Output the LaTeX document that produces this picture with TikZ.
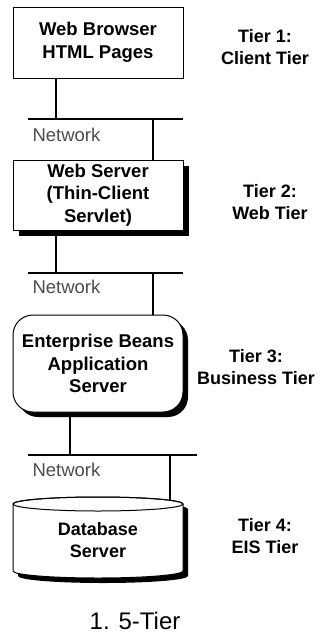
\documentclass[tikz,border=0pt]{standalone}
\usepackage{fontspec}
\setmainfont{Liberation Sans}

\begin{document}
\begin{tikzpicture}[x=1pt,y=-1pt,
	tierbox/.style={draw,fill=white,line width=1pt,minimum width=170pt,inner sep=1pt,align=center,font=\bfseries\fontsize{18.5}{22.5}\selectfont},
	tierlabel/.style={align=center,font=\bfseries\fontsize{18}{22}\selectfont},
	netlabel/.style={anchor=west,text=black!70,font=\fontsize{18.5}{20}\selectfont},
	wire/.style={line width=1.2pt}]
	\useasboundingbox (0,0) rectangle (326,635);
	
	%shadows
	\fill (19,166) rectangle (189,236);
	\fill[rounded corners=20pt] (18,320) rectangle (188,417);
	\fill (18,509) -- (18,576) arc[start angle=180,end angle=0,x radius=85,y radius=7] -- (188,509) arc[start angle=360,end angle=180,x radius=85,y radius=7] -- cycle;
	
	%boxes
	\node[tierbox,minimum height=71pt] (browser) at (98,42.5) {Web Browser\\HTML Pages};
	\node[tierbox,minimum height=70pt] (webserver) at (98,195) {Web Server\\(Thin-Client\\Servlet)};
	\node[tierbox,rounded corners=20pt,minimum height=97pt] (appserver) at (98,363.5) {Enterprise Beans\\Application\\Server};
	%
	\filldraw[fill=white,line width=1pt] (13,504) -- (13,571) arc[start angle=180,end angle=0,x radius=85,y radius=7] -- (183,504) arc[start angle=360,end angle=180,x radius=85,y radius=7] -- cycle;
	\draw[line width=1pt] (98,504) ellipse [x radius=85,y radius=7];
	\node[tierlabel] (database) at (98,540) {Database\\Server};
	\coordinate (dbtop) at (170,500.5);
	
	%networks
	\coordinate (tap1) at (56,119);  \coordinate (drop1) at (153,119);
	\coordinate (tap2) at (56,273);  \coordinate (drop2) at (153,273);
	\coordinate (tap3) at (70,455);  \coordinate (drop3) at (170,455);
	\draw[wire] (28,119) -- (183,119);
	\draw[wire] (28,273) -- (183,273);
	\draw[wire] (28,455) -- (197,455);
	%
	\draw[wire] (tap1 |- browser.south) -- (tap1);
	\draw[wire] (drop1) -- (drop1 |- webserver.north);
	\draw[wire] (tap2 |- webserver.south) -- (tap2);
	\draw[wire] (drop2) -- (drop2 |- appserver.north);
	\draw[wire] (tap3 |- appserver.south) -- (tap3);
	\draw[wire] (drop3) -- (dbtop);
	%
	\node[netlabel] (net1) at (29,135) {Network};
	\node[netlabel] (net2) at (29,287) {Network};
	\node[netlabel] (net3) at (29,470) {Network};
	
	%tier labels
	\node[tierlabel] (tier1) at (265,47) {Tier 1:\\Client Tier};
	\node[tierlabel] (tier2) at (270,202) {Tier 2:\\Web Tier};
	\node[tierlabel] (tier3) at (256,367) {Tier 3:\\Business Tier};
	\node[tierlabel] (tier4) at (265,536) {Tier 4:\\EIS Tier};
	
	%caption
	\node[anchor=base,inner sep=0pt] (caption) at (135,629) {\fontsize{24}{28}\selectfont 1. 5-Tier};
\end{tikzpicture}
\end{document}
